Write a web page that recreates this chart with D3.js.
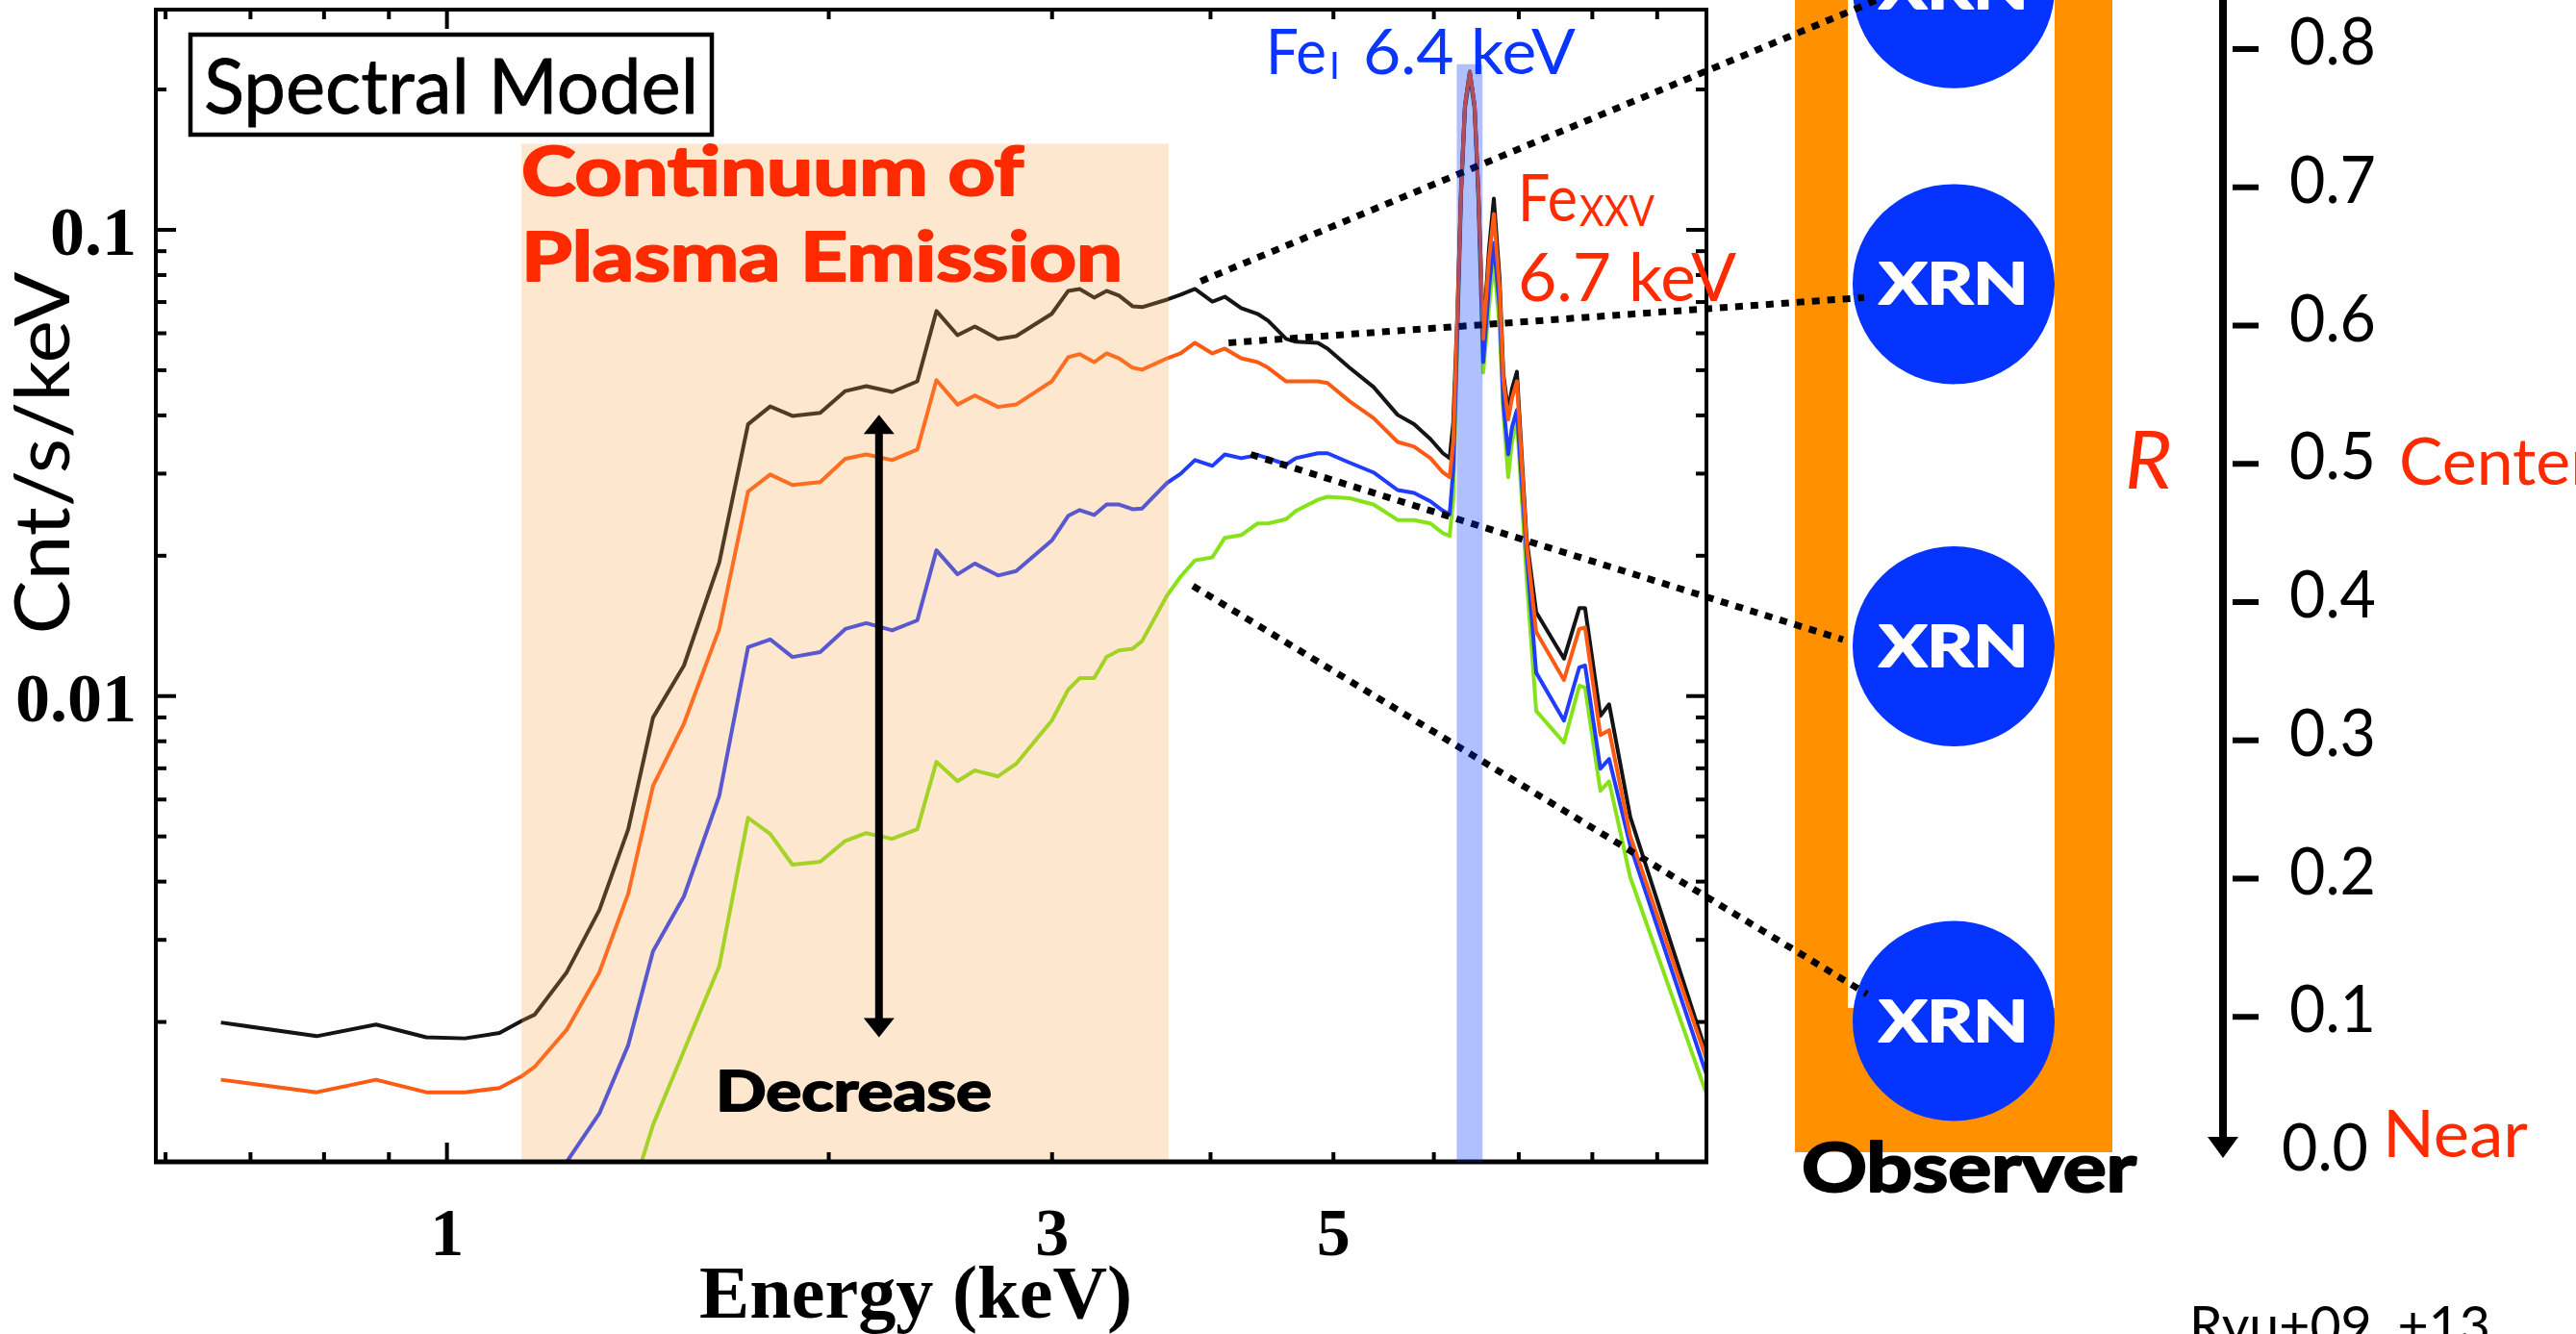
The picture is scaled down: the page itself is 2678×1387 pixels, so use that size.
<!DOCTYPE html>
<html>
<head>
<meta charset="utf-8">
<script src="https://cdn.jsdelivr.net/npm/d3@7"></script>
<style>
  body { margin: 0; background: white; }
  svg { display: block; }
</style>
</head>
<body>
<div id="container"></div>
<script>
let w = 2678;
let h = 1387;

// model spectra, energy in keV, counts in Cnt/s/keV (null = below the plot)
let energy = [0.664,0.790,0.880,0.964,1.034,1.101,1.148,1.174,1.244,1.320,
  1.391,1.455,1.539,1.641,1.729,1.800,1.874,1.971,2.063,2.143,
  2.246,2.351,2.434,2.529,2.610,2.722,2.813,3.001,3.092,3.157,
  3.241,3.315,3.391,3.475,3.536,3.700,3.792,3.892,4.017,4.109,
  4.233,4.360,4.444,4.593,4.674,4.865,4.951,5.152,5.382,5.623,
  5.793,5.968,6.105,6.180,6.220,6.266,6.310,6.354,6.410,6.466,
  6.511,6.568,6.637,6.696,6.766,6.813,6.873,6.920,6.982,7.105,
  7.231,7.605,7.820,7.902,8.125,8.255,8.577,9.850];

let cntBlack = [0.00199,0.00186,0.00197,0.00185,0.00184,0.00189,0.00201,0.00207,0.00255,0.00347,
  0.00517,0.00897,0.0116,0.0193,0.0382,0.0417,0.0398,0.0404,0.0450,0.0461,
  0.0448,0.0472,0.0668,0.0593,0.0619,0.0582,0.0590,0.0659,0.0738,0.0745,
  0.0714,0.0738,0.0721,0.0684,0.0681,0.0707,0.0724,0.0745,0.0700,0.0717,
  0.0678,0.0659,0.0637,0.0582,0.0574,0.0571,0.0555,0.0505,0.0459,0.0400,
  0.0382,0.0355,0.0331,0.0323,0.0385,0.0650,0.1232,0.1845,0.2179,0.1845,
  0.1203,0.0590,0.0905,0.1164,0.0785,0.0488,0.0408,0.0455,0.0495,0.0218,
  0.0151,0.0120,0.0154,0.0154,0.00905,0.00958,0.00550,0.00171];

let cntOrange = [0.00150,0.00141,0.00150,0.00141,0.00141,0.00144,0.00153,0.00160,0.00192,0.00255,
  0.00376,0.00640,0.00871,0.0139,0.0274,0.0298,0.0283,0.0287,0.0322,0.0329,
  0.0320,0.0337,0.0475,0.0421,0.0440,0.0416,0.0421,0.0472,0.0532,0.0540,
  0.0519,0.0542,0.0529,0.0505,0.0500,0.0529,0.0542,0.0571,0.0542,0.0555,
  0.0529,0.0519,0.0505,0.0472,0.0472,0.0472,0.0468,0.0428,0.0394,0.0350,
  0.0342,0.0323,0.0301,0.0294,0.0350,0.0634,0.1221,0.1845,0.2179,0.1845,
  0.1203,0.0582,0.0863,0.1079,0.0748,0.0477,0.0391,0.0434,0.0472,0.0213,
  0.0137,0.0108,0.0139,0.0140,0.00823,0.00843,0.00500,0.00166];

let cntBlue = [null,null,null,null,null,null,null,0.00080,0.00100,0.00127,
  0.00178,0.00283,0.00371,0.00610,0.0127,0.0132,0.0121,0.0124,0.0139,0.0143,
  0.0138,0.0145,0.0205,0.0182,0.0192,0.0181,0.0185,0.0215,0.0243,0.0250,
  0.0244,0.0257,0.0257,0.0251,0.0252,0.0286,0.0299,0.0320,0.0311,0.0329,
  0.0323,0.0328,0.0323,0.0313,0.0323,0.0331,0.0331,0.0316,0.0301,0.0276,
  0.0272,0.0261,0.0249,0.0245,0.0304,0.0605,0.1203,0.1827,0.2158,0.1827,
  0.1175,0.0519,0.0748,0.0936,0.0681,0.0423,0.0329,0.0376,0.0410,0.0203,
  0.0112,0.00884,0.0115,0.0116,0.00697,0.00731,0.00477,0.00154];

let cntGreen = [null,null,null,null,null,null,null,null,null,null,
  0.00081,0.00120,0.00173,0.00263,0.00547,0.00505,0.00434,0.00440,0.00488,0.00507,
  0.00493,0.00517,0.00721,0.00655,0.00691,0.00671,0.00714,0.00884,0.0103,0.0109,
  0.0109,0.0121,0.0125,0.0126,0.0131,0.0164,0.0180,0.0195,0.0198,0.0218,
  0.0221,0.0234,0.0234,0.0239,0.0249,0.0263,0.0267,0.0265,0.0257,0.0238,
  0.0238,0.0234,0.0223,0.0220,0.0263,0.0576,0.1175,0.1801,0.2128,0.1801,
  0.1148,0.0493,0.0681,0.0851,0.0619,0.0404,0.0294,0.0350,0.0391,0.0180,
  0.00927,0.00793,0.0105,0.0104,0.00625,0.00655,0.00408,0.00140];

// axis ticks
let xMinorTicks = [0.6,0.7,0.8,0.9,2,3,4,5,6,7,8,9];
let xMajorTicks = [1];
let xTickLabels = [1,3,5];
let yMinorTicks = [0.002,0.003,0.004,0.005,0.006,0.007,0.008,0.009,0.02,0.03,0.04,0.05,0.06,0.07,0.08,0.09,0.2];
let yMajorTicks = [0.01,0.1];
let yTickLabels = [0.1,0.01];

// highlighted bands (keV) and their tops (Cnt/s/keV)
let continuumBand = [1.146,3.71];
let continuumTop = 0.1526;
let feBand = [6.26,6.56];
let feTop = 0.226;
// "Decrease" arrow: energy, upper and lower ends
let decreaseArrow = [2.193,0.0400,0.00185];

// right panel: radius scale ticks, XRN positions, link start points on the spectra
let rTicks = [0.1,0.2,0.3,0.4,0.5,0.6,0.7,0.8];
let xrnR = [0.844,0.63,0.368,0.097];
let linkFrom = [[3.933,0.0774],[4.137,0.0571],[4.307,0.0329],[3.878,0.01718]];

let viz = d3.select("#container").append("svg")
  .attr("width", w)
  .attr("height", h)
  .style("background-color", "white");

let pLeft = 162, pRight = 1774, pTop = 10, pBottom = 1208;
let x = d3.scaleLog().domain([0.59, 9.85]).range([pLeft, pRight]);
let y = d3.scaleLog().domain([0.001, 0.296]).range([pBottom, pTop]);

let sans = "Lato, 'Noto Sans', sans-serif";
let serif = "'Liberation Serif', 'DejaVu Serif', serif";
let red = "#ff2a00";

// heavy sans text: bold plus a thin outline in the same colour
function heavy(sel, color, sw) {
  return sel.attr("font-family", sans).attr("font-weight", "bold")
    .attr("fill", color).attr("stroke", color).attr("stroke-width", sw)
    .attr("stroke-linejoin", "round");
}

viz.append("clipPath").attr("id", "plotclip")
  .append("rect").attr("x", pLeft).attr("y", pTop)
  .attr("width", pRight - pLeft).attr("height", pBottom - pTop);

// spectra
let series = [
  {name: "green", color: "#86e31a", values: cntGreen},
  {name: "blue", color: "#1f3cff", values: cntBlue},
  {name: "black", color: "#141414", values: cntBlack},
  {name: "orange", color: "#ff5a14", values: cntOrange}
];

let line = d3.line()
  .defined(d => d.c != null)
  .x(d => x(d.e))
  .y(d => y(d.c));

viz.append("g").attr("clip-path", "url(#plotclip)")
  .selectAll(".spec").data(series).enter()
  .append("path")
  .attr("class", "spec")
  .attr("d", s => line(energy.map((e, i) => ({e: e, c: s.values[i]}))))
  .attr("fill", "none")
  .attr("stroke", s => s.color)
  .attr("stroke-width", 4)
  .attr("stroke-linejoin", "round");

// continuum band (translucent overlay)
viz.append("rect")
  .attr("x", x(continuumBand[0]))
  .attr("y", y(continuumTop))
  .attr("width", x(continuumBand[1]) - x(continuumBand[0]))
  .attr("height", pBottom - y(continuumTop))
  .attr("fill", "#f7a64a")
  .attr("opacity", 0.27);

// frame and ticks
function ticks(gen, vals, size) {
  let g = viz.append("g").call(gen.tickValues(vals).tickSize(size).tickSizeOuter(0).tickFormat(""));
  g.select(".domain").remove();
  g.selectAll(".tick line").attr("stroke", "black").attr("stroke-width", 4);
  return g;
}
ticks(d3.axisBottom(x), xMinorTicks, -10).attr("transform", `translate(0,${pBottom})`);
ticks(d3.axisBottom(x), xMajorTicks, -20).attr("transform", `translate(0,${pBottom})`);
ticks(d3.axisTop(x), xMinorTicks, -10).attr("transform", `translate(0,${pTop})`);
ticks(d3.axisTop(x), xMajorTicks, -20).attr("transform", `translate(0,${pTop})`);
ticks(d3.axisLeft(y), yMinorTicks, -11).attr("transform", `translate(${pLeft},0)`);
ticks(d3.axisLeft(y), yMajorTicks, -21).attr("transform", `translate(${pLeft},0)`);
ticks(d3.axisRight(y), yMinorTicks, -11).attr("transform", `translate(${pRight},0)`);
ticks(d3.axisRight(y), yMajorTicks, -21).attr("transform", `translate(${pRight},0)`);

viz.append("rect")
  .attr("x", pLeft).attr("y", pTop)
  .attr("width", pRight - pLeft).attr("height", pBottom - pTop)
  .attr("fill", "none").attr("stroke", "black").attr("stroke-width", 4);
viz.append("line")
  .attr("x1", pLeft - 2).attr("x2", pRight + 2).attr("y1", pBottom).attr("y2", pBottom)
  .attr("stroke", "black").attr("stroke-width", 5);

// tick labels
let xLab = viz.append("g").attr("transform", `translate(0,${pBottom})`)
  .call(d3.axisBottom(x).tickValues(xTickLabels).tickSize(0).tickFormat(d3.format("d")));
xLab.select(".domain").remove();
xLab.selectAll("text")
  .attr("y", 97).attr("dy", null)
  .attr("font-family", serif).attr("font-weight", "bold").attr("font-size", 70).attr("fill", "black");

let yLab = viz.append("g").attr("transform", `translate(${pLeft},0)`)
  .call(d3.axisLeft(y).tickValues(yTickLabels).tickSize(0).tickFormat(d => d == 0.1 ? "0.1" : "0.01"));
yLab.select(".domain").remove();
yLab.selectAll("text")
  .attr("x", -20).attr("dy", 26)
  .attr("font-family", serif).attr("font-weight", "bold").attr("font-size", 72).attr("fill", "black");

viz.append("text")
  .text("Energy (keV)")
  .attr("x", 952).attr("y", 1370)
  .attr("text-anchor", "middle")
  .attr("font-family", serif).attr("font-weight", "bold").attr("font-size", 78)
  .attr("textLength", 450).attr("lengthAdjust", "spacingAndGlyphs");

viz.append("text")
  .text("Cnt/s/keV")
  .attr("transform", "translate(72,471) rotate(-90)")
  .attr("text-anchor", "middle")
  .attr("font-family", sans).attr("font-size", 80)
  .attr("textLength", 377).attr("lengthAdjust", "spacingAndGlyphs");

// annotations inside the plot
viz.append("rect")
  .attr("x", 198).attr("y", 36).attr("width", 542).attr("height", 104)
  .attr("fill", "white").attr("stroke", "black").attr("stroke-width", 4.5);
viz.append("text")
  .text("Spectral Model")
  .attr("x", 212).attr("y", 118)
  .attr("font-family", sans).attr("font-size", 80)
  .attr("stroke", "black").attr("stroke-width", 0.8)
  .attr("textLength", 514).attr("lengthAdjust", "spacingAndGlyphs");

heavy(viz.append("text").text("Continuum of"), red, 2.2)
  .attr("x", 542).attr("y", 203).attr("font-size", 70)
  .attr("textLength", 522).attr("lengthAdjust", "spacingAndGlyphs");
heavy(viz.append("text").text("Plasma Emission"), red, 2.2)
  .attr("x", 542).attr("y", 292).attr("font-size", 70)
  .attr("textLength", 625).attr("lengthAdjust", "spacingAndGlyphs");

// decrease arrow
let ax = x(decreaseArrow[0]), ay1 = y(decreaseArrow[1]), ay2 = y(decreaseArrow[2]);
viz.append("line")
  .attr("x1", ax).attr("x2", ax).attr("y1", ay1 + 15).attr("y2", ay2 - 15)
  .attr("stroke", "black").attr("stroke-width", 8);
viz.append("path")
  .attr("d", `M${ax},${ay1} L${ax - 16},${ay1 + 20} L${ax + 16},${ay1 + 20} Z M${ax},${ay2} L${ax - 16},${ay2 - 20} L${ax + 16},${ay2 - 20} Z`)
  .attr("fill", "black");
heavy(viz.append("text").text("Decrease"), "black", 2)
  .attr("x", 744).attr("y", 1155).attr("font-size", 58)
  .attr("textLength", 287).attr("lengthAdjust", "spacingAndGlyphs");

// Fe line labels
let blueTxt = "#0a35ff";
viz.append("text").text("Fe").attr("x", 1316).attr("y", 77)
  .attr("font-family", sans).attr("font-size", 66).attr("fill", blueTxt)
  .attr("textLength", 63).attr("lengthAdjust", "spacingAndGlyphs");
viz.append("text").text("I").attr("x", 1382).attr("y", 82)
  .attr("font-family", sans).attr("font-size", 38).attr("fill", blueTxt);
viz.append("text").text("6.4 keV").attr("x", 1417).attr("y", 77)
  .attr("font-family", sans).attr("font-size", 66).attr("fill", blueTxt)
  .attr("textLength", 221).attr("lengthAdjust", "spacingAndGlyphs");

viz.append("text").text("Fe").attr("x", 1578).attr("y", 230)
  .attr("font-family", sans).attr("font-size", 67).attr("fill", red)
  .attr("textLength", 62).attr("lengthAdjust", "spacingAndGlyphs");
viz.append("text").text("XXV").attr("x", 1642).attr("y", 235)
  .attr("font-family", sans).attr("font-size", 45).attr("fill", red)
  .attr("textLength", 78).attr("lengthAdjust", "spacingAndGlyphs");
viz.append("text").text("6.7 keV").attr("x", 1578).attr("y", 313)
  .attr("font-family", sans).attr("font-size", 70).attr("fill", red)
  .attr("textLength", 227).attr("lengthAdjust", "spacingAndGlyphs");

// right panel: detector column with XRN positions
let r = d3.scaleLinear().domain([0, 0.8]).range([1201, 51]);
let colX = 2031;

viz.append("rect").attr("x", 1866).attr("y", -10).attr("width", 330).attr("height", 1208)
  .attr("fill", "#ff9100");
viz.append("rect").attr("x", 1921).attr("y", -10).attr("width", 215).attr("height", 1058)
  .attr("fill", "white");

viz.selectAll(".xrn").data(xrnR).enter()
  .append("ellipse")
  .attr("class", "xrn")
  .attr("cx", colX).attr("cy", d => r(d))
  .attr("rx", 105).attr("ry", 104)
  .attr("fill", "#0533ff");
heavy(viz.selectAll(".xrnlabel").data(xrnR).enter().append("text"), "white", 2)
  .attr("class", "xrnlabel")
  .text("XRN")
  .attr("x", colX).attr("y", d => r(d) + 21)
  .attr("text-anchor", "middle")
  .attr("font-size", 60)
  .attr("textLength", 155).attr("lengthAdjust", "spacingAndGlyphs");

heavy(viz.append("text").text("Observer"), "black", 2.2)
  .attr("x", 1873).attr("y", 1239).attr("font-size", 70)
  .attr("textLength", 348).attr("lengthAdjust", "spacingAndGlyphs");

viz.append("text").text("R").attr("x", 2209).attr("y", 508)
  .attr("font-family", sans).attr("font-style", "italic").attr("font-size", 84).attr("fill", red);

// radius scale arrow
viz.append("line").attr("x1", 2311).attr("x2", 2311).attr("y1", -5).attr("y2", 1186)
  .attr("stroke", "black").attr("stroke-width", 8);
viz.append("path").attr("d", "M2295,1182 L2327,1182 L2311,1204 Z").attr("fill", "black");
viz.selectAll(".rtick").data(rTicks).enter()
  .append("line").attr("class", "rtick")
  .attr("x1", 2321).attr("x2", 2348)
  .attr("y1", d => r(d)).attr("y2", d => r(d))
  .attr("stroke", "black").attr("stroke-width", 6);
viz.selectAll(".rlabel").data([0].concat(rTicks)).enter()
  .append("text").attr("class", "rlabel")
  .text(d => d.toFixed(1))
  .attr("x", d => d == 0 ? 2372 : 2380).attr("y", d => r(d) + 16)
  .attr("font-family", sans).attr("font-size", 68)
  .attr("textLength", 90).attr("lengthAdjust", "spacingAndGlyphs");
viz.append("text").text("Center").attr("x", 2494).attr("y", 504)
  .attr("font-family", sans).attr("font-size", 68).attr("fill", red);
viz.append("text").text("Near").attr("x", 2477).attr("y", 1203)
  .attr("font-family", sans).attr("font-size", 68).attr("fill", red)
  .attr("textLength", 151).attr("lengthAdjust", "spacingAndGlyphs");
viz.append("text").text("Ryu+09, +13").attr("x", 2276).attr("y", 1398)
  .attr("font-family", sans).attr("font-size", 56)
  .attr("textLength", 313).attr("lengthAdjust", "spacingAndGlyphs");

// dotted links from spectra to XRN positions
let linkTo = [[-79, 12], [-93, 14], [-115, -7], [-90, -28]];
viz.selectAll(".link").data(linkFrom).enter()
  .append("line").attr("class", "link")
  .attr("x1", d => x(d[0])).attr("y1", d => y(d[1]))
  .attr("x2", (d, i) => colX + linkTo[i][0])
  .attr("y2", (d, i) => r(xrnR[i]) + linkTo[i][1])
  .attr("stroke", "black").attr("stroke-width", 7)
  .attr("stroke-dasharray", "8,8");

// Fe I band overlay (on top of lines)
viz.append("rect")
  .attr("x", x(feBand[0]))
  .attr("y", y(feTop))
  .attr("width", x(feBand[1]) - x(feBand[0]))
  .attr("height", pBottom - y(feTop))
  .attr("fill", "#0033ff")
  .attr("opacity", 0.31);
</script>
</body>
</html>
